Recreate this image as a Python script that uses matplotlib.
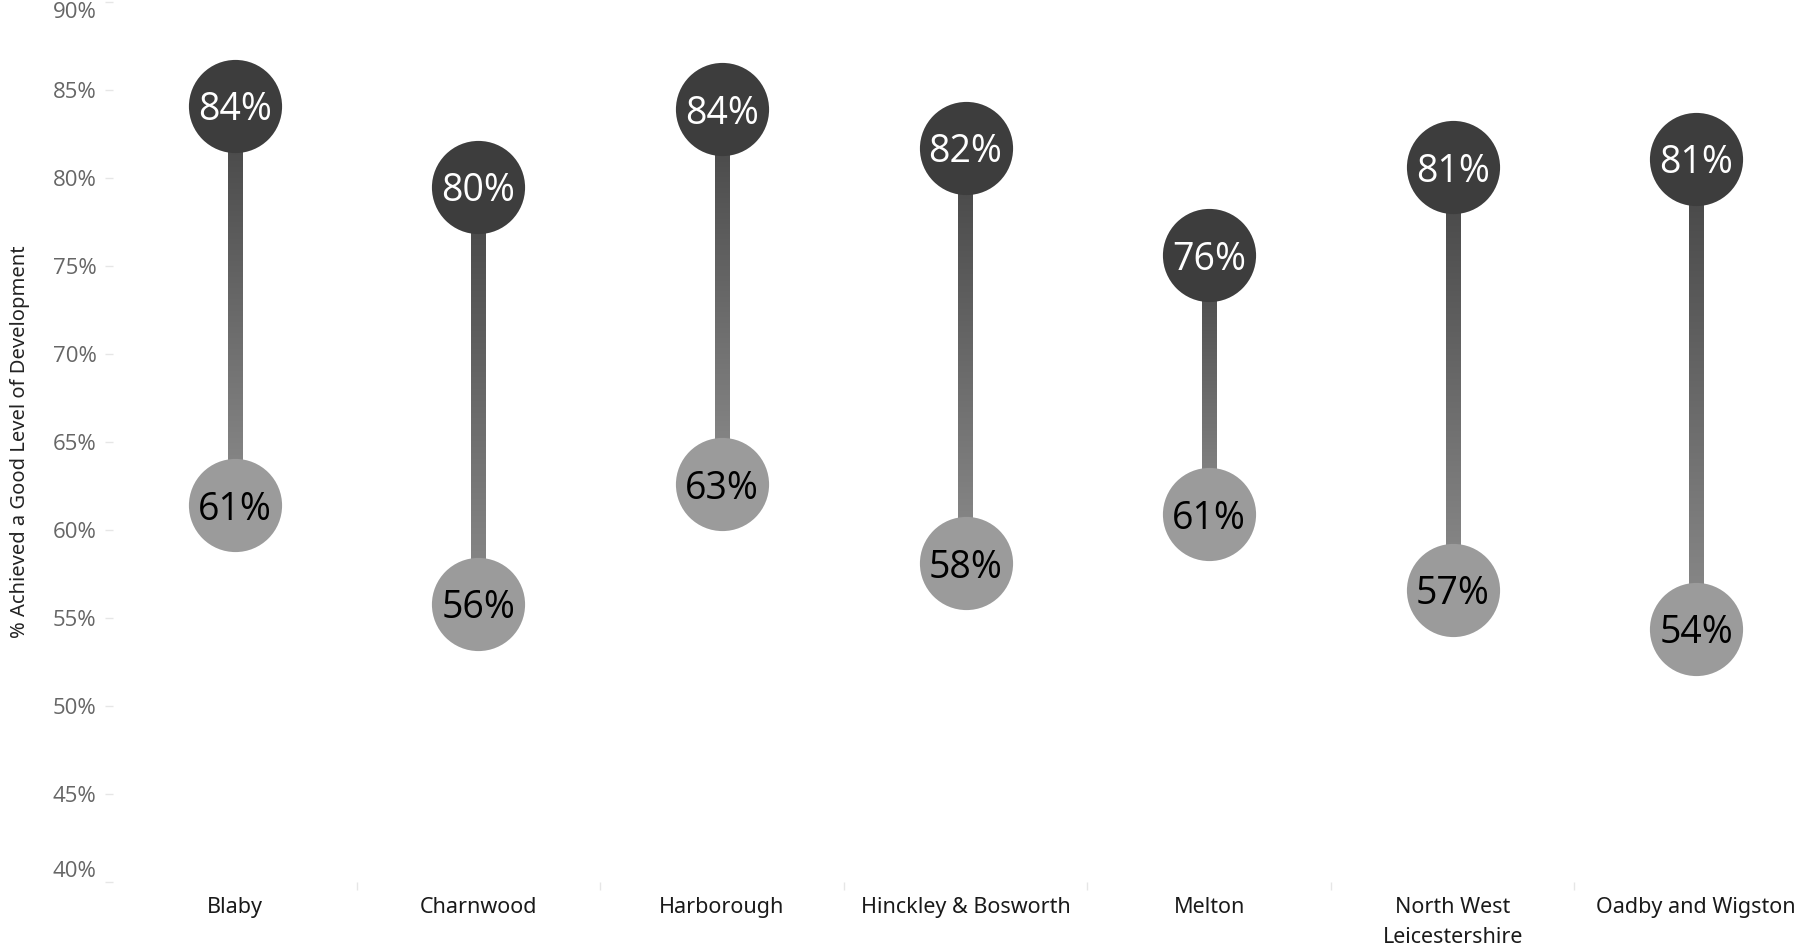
import numpy as np
import matplotlib.pyplot as plt
from matplotlib.colors import LinearSegmentedColormap

areas = ['Blaby', 'Charnwood', 'Harborough', 'Hinckley & Bosworth', 'Melton',
         'North West\nLeicestershire', 'Oadby and Wigston']
high = [84.1, 79.5, 83.9, 81.7, 75.6, 80.6, 81.1]   # dark circles
low = [61.4, 55.8, 62.6, 58.1, 60.9, 56.6, 54.4]    # light circles
yticks = [40, 45, 50, 55, 60, 65, 70, 75, 80, 85, 90]

plt.rcParams['font.family'] = ['Noto Sans', 'DejaVu Sans']

fig = plt.figure(figsize=(18.18, 9.47), dpi=100)
ax = fig.add_axes([0.0622, 0.0686, 0.9378, 0.9294])

cmap = LinearSegmentedColormap.from_list('stem', ['#8c8c8c', '#444444'])
grad = np.linspace(0, 1, 256).reshape(-1, 1)
x = np.arange(len(areas))
hw = 0.029

for i in range(len(areas)):
    ax.imshow(grad, cmap=cmap, origin='lower', aspect='auto',
              extent=[x[i] - hw, x[i] + hw, low[i], high[i]], zorder=1)

ax.scatter(x, high, s=4500, color='#3d3d3d', zorder=3, linewidths=0)
ax.scatter(x, low, s=4500, color='#9b9b9b', zorder=3, linewidths=0)

for i in range(len(areas)):
    ax.text(x[i], high[i], f'{round(high[i])}%', color='white', fontsize=27,
            ha='center', va='center_baseline', zorder=4, family=['Open Sans', 'DejaVu Sans'])
    ax.text(x[i], low[i], f'{round(low[i])}%', color='black', fontsize=27,
            ha='center', va='center_baseline', zorder=4, family=['Open Sans', 'DejaVu Sans'])

ax.set_xlim(-0.5, len(areas) - 0.5)
ax.set_ylim(40, 90)
ax.set_yticks(yticks)
ax.set_yticklabels([f'{t}%' for t in yticks], fontsize=16, color='#666666',
                   family=['Open Sans', 'DejaVu Sans'])
ylabs = ax.get_yticklabels()
ylabs[0].set_va('bottom')
ylabs[-1].set_va('top')
ax.set_xticks(x)
ax.set_xticklabels(areas, fontsize=15.5, color='#1a1a1a', linespacing=1.55)
ax.set_xticks(np.arange(len(areas) - 1) + 0.5, minor=True)
ax.tick_params(axis='x', which='major', length=0, pad=11)
ax.tick_params(axis='x', which='minor', length=6, color='#e6e6e6', width=1)
ax.tick_params(axis='y', length=6, color='#e6e6e6', width=1, pad=6)

for s in ax.spines.values():
    s.set_visible(False)

ax.set_ylabel('% Achieved a Good Level of Development', fontsize=14.5,
              color='#222222', labelpad=16)

plt.savefig('out.png', dpi=100)
plt.close()
